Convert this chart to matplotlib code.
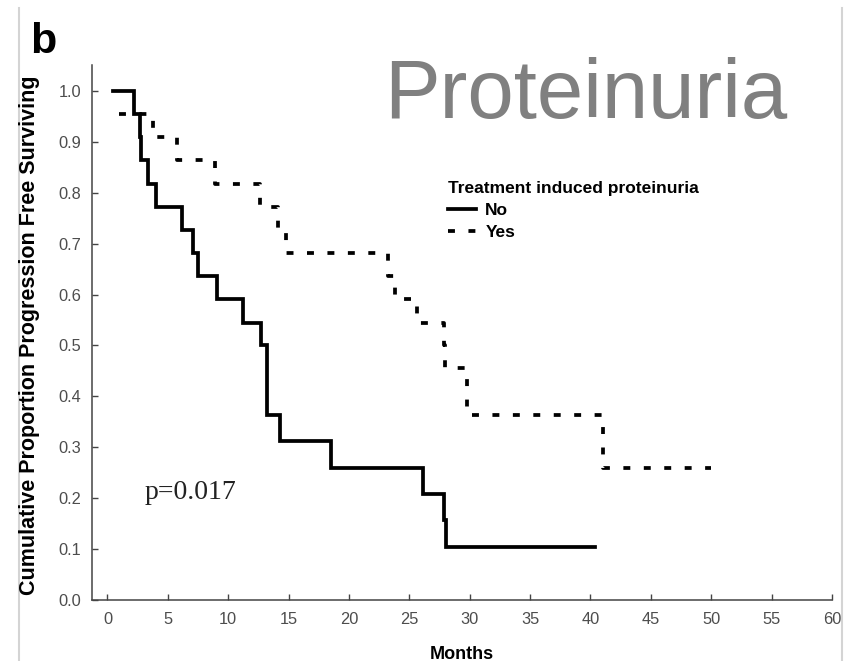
import matplotlib
matplotlib.use('Agg')
import matplotlib.pyplot as plt
from matplotlib.lines import Line2D

# Kaplan-Meier step curves, months vs. proportion still free of progression
no_months = [0.45, 2.2, 2.7, 2.8, 3.35, 4.0, 6.15, 7.05, 7.5, 9.05, 11.2, 12.75, 13.2,
             14.25, 18.55, 26.15, 27.9, 28.05, 40.4]
no_surv = [1.0, 0.955, 0.909, 0.864, 0.818, 0.773, 0.727, 0.682, 0.636, 0.591, 0.545, 0.5,
           0.364, 0.312, 0.26, 0.208, 0.157, 0.104, 0.104]

yes_months = [0.95, 3.75, 5.8, 8.9, 12.6, 14.1, 14.8, 23.2, 23.8, 25.6, 27.9, 27.95, 29.8,
              41.0, 50.0]
yes_surv = [0.955, 0.909, 0.864, 0.818, 0.773, 0.727, 0.682, 0.636, 0.591, 0.545, 0.5,
            0.455, 0.364, 0.26, 0.26]

x_ticks = list(range(0, 61, 5))
y_ticks = [i / 10 for i in range(11)]

plt.rcParams['font.family'] = ['Liberation Sans', 'DejaVu Sans']

fig = plt.figure(figsize=(8.5, 6.61), dpi=100)
ax = fig.add_axes([92 / 850, 61 / 661, 740 / 850, 535 / 661])

lw = 2.7
ax.step(no_months, no_surv, where='post', color='black', lw=lw, label='No',
        solid_joinstyle='miter')
ax.step(yes_months, yes_surv, where='post', color='black', lw=lw, label='Yes',
        linestyle=(0, (1.85, 3.6)), dash_capstyle='butt')

ax.set_xlim(-1.28, 60)
ax.set_ylim(0, 1.051)
ax.set_xticks(x_ticks)
ax.set_yticks(y_ticks)
ax.set_yticklabels(['%.1f' % v for v in y_ticks])

for side in ['top', 'right']:
    ax.spines[side].set_visible(False)
for side in ['left', 'bottom']:
    ax.spines[side].set_color('#444444')
    ax.spines[side].set_linewidth(1.1)
ax.tick_params(direction='in', length=4, width=1, color='#444444',
               labelsize=11.8, labelcolor='#4d4d4d')
ax.tick_params(axis='x', pad=9)
ax.tick_params(axis='y', pad=8)

ax.set_xlabel('Months', fontsize=13, fontweight='bold', labelpad=13)
fig.text(30 / 850, 1 - 335 / 661, 'Cumulative Proportion Progression Free Surviving',
         rotation=90, ha='center', va='center', fontsize=15.5, fontweight='bold')

leg = ax.legend(title='Treatment induced proteinuria', loc='upper left',
                bbox_to_anchor=(448 / 850, 1 - 181 / 661), bbox_transform=fig.transFigure,
                frameon=False, prop={'weight': 'bold', 'size': 12.5},
                title_fontproperties={'weight': 'bold', 'size': 12.5},
                alignment='left', handlelength=1.6, handletextpad=0.55,
                borderpad=0, borderaxespad=0, labelspacing=0.38)
leg._legend_box.sep = 5

fig.text(145 / 850, 1 - 499 / 661, 'p=0.017', family=['Liberation Serif', 'DejaVu Serif'],
         fontsize=20, color='#222222', ha='left', va='baseline')
fig.text(384 / 850, 1 - 118 / 661, 'Proteinuria', fontsize=60, color='#808080',
         ha='left', va='baseline')
fig.text(30 / 850, 1 - 53 / 661, 'b', fontsize=31, fontweight='bold', ha='left', va='baseline')

# light panel borders on both sides
for xpix in [19, 842]:
    fig.add_artist(Line2D([xpix / 850] * 2, [0, 1 - 8 / 661], transform=fig.transFigure,
                          color='#d4d4d4', lw=1.5))

fig.savefig('out.png', dpi=100)
